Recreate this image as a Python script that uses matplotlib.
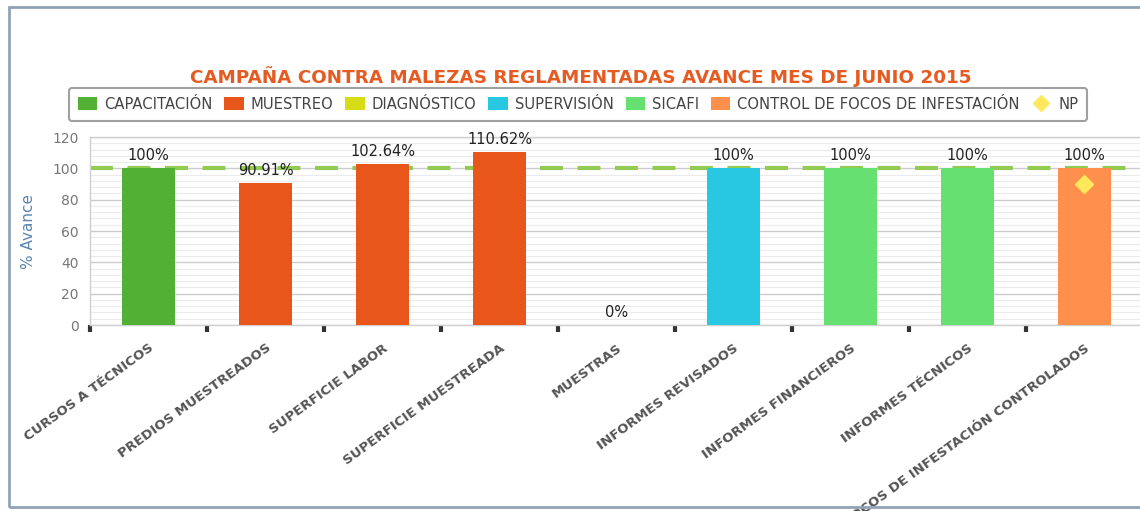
import matplotlib.pyplot as plt
from matplotlib.patches import Patch, Rectangle
from matplotlib.lines import Line2D
from matplotlib.ticker import MultipleLocator, FixedLocator

# data
categorias = ['CURSOS A TÉCNICOS', 'PREDIOS MUESTREADOS', 'SUPERFICIE LABOR',
              'SUPERFICIE MUESTREADA', 'MUESTRAS', 'INFORMES REVISADOS',
              'INFORMES FINANCIEROS', 'INFORMES TÉCNICOS',
              'FOCOS DE INFESTACIÓN CONTROLADOS']
avance = [100, 90.91, 102.64, 110.62, 0, 100, 100, 100, 100]
etiquetas = ['100%', '90.91%', '102.64%', '110.62%', '0%', '100%', '100%', '100%', '100%']
serie_de_cat = ['CAPACITACIÓN', 'MUESTREO', 'MUESTREO', 'MUESTREO', 'DIAGNÓSTICO',
                'SUPERVISIÓN', 'SICAFI', 'SICAFI', 'CONTROL DE FOCOS DE INFESTACIÓN']
series = ['CAPACITACIÓN', 'MUESTREO', 'DIAGNÓSTICO', 'SUPERVISIÓN', 'SICAFI',
          'CONTROL DE FOCOS DE INFESTACIÓN']
colores = ['#52B134', '#E8561C', '#D8DC16', '#29C8E2', '#66E070', '#FF8F4C']
np_cat = 8
np_valor = 90
meta = 100

color_serie = dict(zip(series, colores))

fig = plt.figure(figsize=(11.4, 5.11), dpi=100)
fig.patch.set_facecolor('white')

# outer panel frame
fig.add_artist(Rectangle((9 / 1140, 1 - 507 / 511), 1.2, 500 / 511,
                         transform=fig.transFigure, fill=False,
                         edgecolor='#8FA2B6', linewidth=2))

ax = fig.add_axes([90 / 1140, 1 - 325 / 511, 1053 / 1140, 188 / 511])
ax.set_facecolor('white')

x = list(range(len(categorias)))
ax.bar(x, avance, width=0.46, color=[color_serie[s] for s in serie_de_cat], zorder=3)
ax.axhline(meta, color='#93CA52', linewidth=3, dashes=(5.5, 3.5), zorder=2)
ax.plot([np_cat], [np_valor], marker='D', markersize=9, color='#FFE85C',
        linestyle='none', zorder=4)

for xi, v, t in zip(x, avance, etiquetas):
    ax.annotate(t, (xi, v), xytext=(0, 3.5), textcoords='offset points',
                ha='center', va='bottom', fontsize=10.5, color='#222222', zorder=5)

ax.set_xlim(-0.5, len(categorias) - 0.5)
ax.set_ylim(0, 120)
ax.yaxis.set_major_locator(MultipleLocator(20))
ax.yaxis.set_minor_locator(MultipleLocator(4))
ax.grid(axis='y', which='major', color='#cccccc', linewidth=1, zorder=0)
ax.grid(axis='y', which='minor', color='#ebebeb', linewidth=0.8, zorder=0)
ax.set_axisbelow(True)

ax.set_xticks(x)
ax.set_xticklabels(categorias, rotation=36, ha='right', va='top',
                   rotation_mode='anchor', fontsize=9.6, fontweight='bold', color='#555555')
ax.xaxis.set_minor_locator(FixedLocator([i - 0.5 for i in range(len(categorias) + 1)]))
ax.tick_params(axis='x', which='major', length=0, pad=12)
ax.tick_params(axis='x', which='minor', length=5, width=3, color='#333333', direction='out')
ax.tick_params(axis='y', which='both', length=0, pad=8, labelsize=10, labelcolor='#777777')

for s in ax.spines.values():
    s.set_color('#cfcfcf')
    s.set_linewidth(1)

ax.set_ylabel('% Avance', fontsize=11, color='#5A84AE', labelpad=12)

handles = [Patch(facecolor=c, edgecolor='none') for c in colores]
handles.append(Line2D([], [], marker='D', color='#FFE85C', linestyle='none', markersize=8))
leg = fig.legend(handles, series + ['NP'], loc='center', bbox_to_anchor=(0.507, 0.796),
                 ncol=7, fontsize=10.6, frameon=True, fancybox=True,
                 handlelength=1.3, handleheight=1.0, handletextpad=0.5,
                 columnspacing=0.8, borderpad=0.6, labelcolor='#444444')
leg.get_frame().set_edgecolor('#888888')
leg.get_frame().set_linewidth(1.5)

fig.text(0.509, 1 - 77 / 511, 'CAMPAÑA CONTRA MALEZAS REGLAMENTADAS AVANCE MES DE JUNIO 2015',
         ha='center', va='center', fontsize=13.2, fontweight='bold', color='#E55B22')

fig.savefig('out.png', dpi=100)
